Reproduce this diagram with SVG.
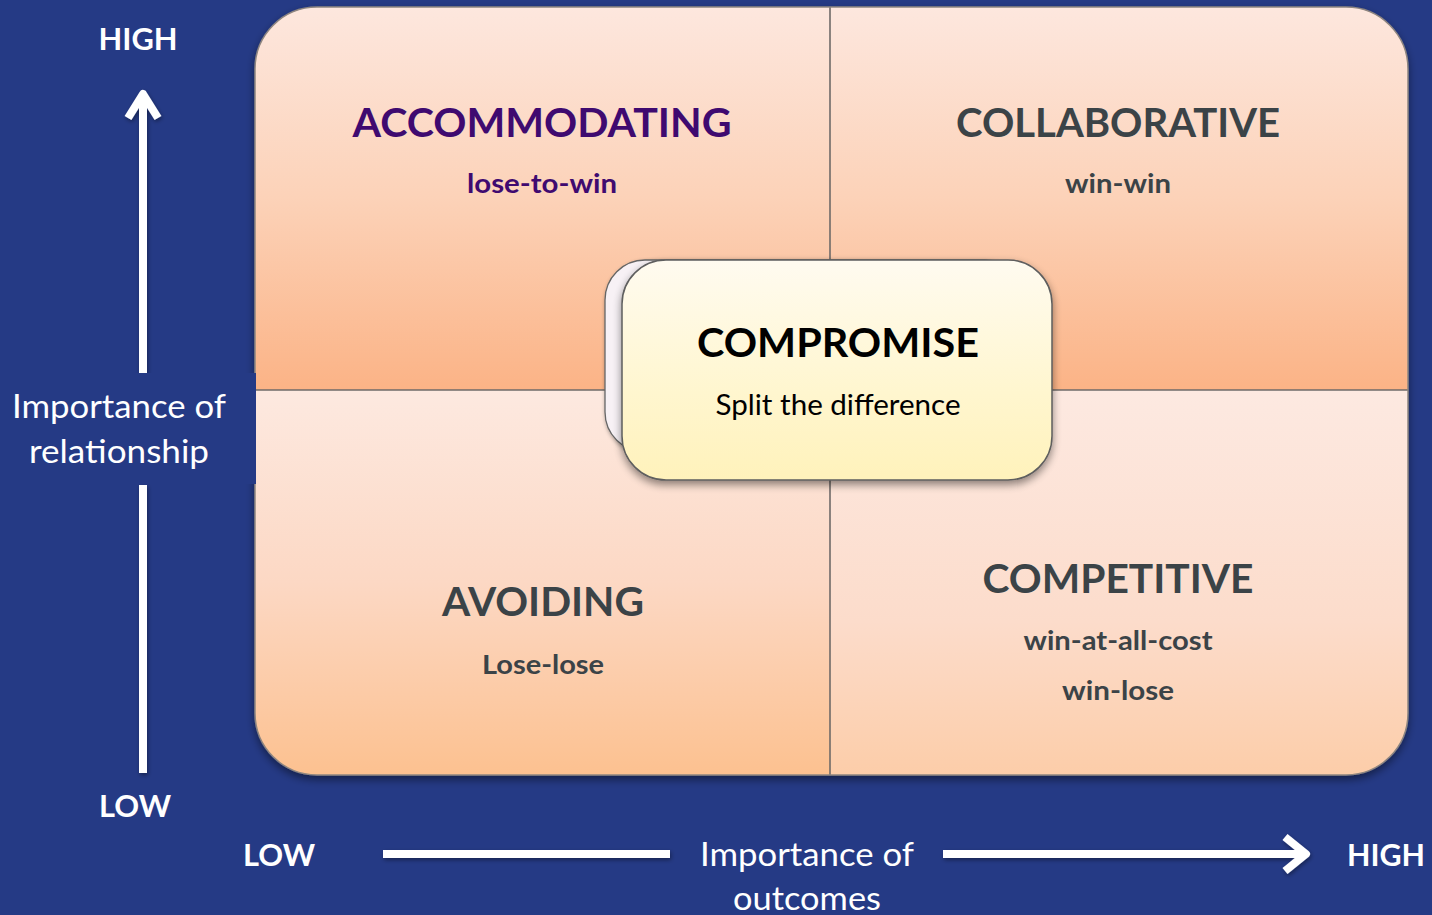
<svg xmlns="http://www.w3.org/2000/svg" width="1432" height="915" viewBox="0 0 1432 915">
<style>
.t{font-family:Lato,"Liberation Sans",sans-serif;text-anchor:middle}
.b{font-weight:bold}
.w{fill:#ffffff}
.g{fill:#3b4347}
.p{fill:#3f0a70}
.k{fill:#000000}
.ax{stroke:#ffffff;stroke-width:8;fill:none;stroke-linejoin:round;stroke-linecap:butt}
.div{stroke:#6e6a68;stroke-width:1.6}
</style>
<defs>
<linearGradient id="gTop" x1="0" y1="0" x2="0" y2="1">
<stop offset="0" stop-color="#fde7de"/><stop offset="0.5" stop-color="#fcd2b8"/><stop offset="1" stop-color="#fbb386"/>
</linearGradient>
<linearGradient id="gBL" x1="0" y1="0" x2="0" y2="1">
<stop offset="0" stop-color="#fde9e0"/><stop offset="0.5" stop-color="#fcd8c4"/><stop offset="1" stop-color="#fcc190"/>
</linearGradient>
<linearGradient id="gBR" x1="0" y1="0" x2="0" y2="1">
<stop offset="0" stop-color="#fde9e1"/><stop offset="0.6" stop-color="#fcdccb"/><stop offset="1" stop-color="#fccda9"/>
</linearGradient>
<linearGradient id="gComp" x1="0" y1="0" x2="0" y2="1">
<stop offset="0" stop-color="#fffbf0"/><stop offset="0.6" stop-color="#fff6cf"/><stop offset="1" stop-color="#fff2bb"/>
</linearGradient>
<clipPath id="frame"><rect x="255" y="7" width="1153" height="768" rx="62" ry="62"/></clipPath>
<filter id="sh" x="-10%" y="-10%" width="120%" height="125%">
<feGaussianBlur in="SourceAlpha" stdDeviation="4"/><feOffset dx="0" dy="4"/>
<feComponentTransfer><feFuncA type="linear" slope="0.45"/></feComponentTransfer>
<feMerge><feMergeNode/><feMergeNode in="SourceGraphic"/></feMerge>
</filter>
<filter id="ash" x="-20%" y="-20%" width="140%" height="140%">
<feGaussianBlur in="SourceAlpha" stdDeviation="2"/><feOffset dx="1" dy="2"/>
<feComponentTransfer><feFuncA type="linear" slope="0.4"/></feComponentTransfer>
<feMerge><feMergeNode/><feMergeNode in="SourceGraphic"/></feMerge>
</filter>
</defs>
<rect x="0" y="0" width="1432" height="915" fill="#253a85"/>

<g id="matrix" filter="url(#sh)">
<rect x="255" y="7" width="1153" height="768" rx="62" ry="62" fill="#fcd2b8"/>
<g clip-path="url(#frame)">
<rect id="q-tl" x="255" y="7" width="575" height="383" fill="url(#gTop)"/>
<rect id="q-tr" x="830" y="7" width="578" height="383" fill="url(#gTop)"/>
<rect id="q-bl" x="255" y="390" width="575" height="385" fill="url(#gBL)"/>
<rect id="q-br" x="830" y="390" width="578" height="385" fill="url(#gBR)"/>
</g>
<line class="div" x1="830" y1="7" x2="830" y2="775"/>
<line class="div" x1="255" y1="390" x2="1408" y2="390"/>
<rect x="255" y="7" width="1153" height="768" rx="62" ry="62" fill="none" stroke="#8d8580" stroke-width="1.5"/>
</g>

<g id="accommodating">
<text class="t b p" x="542" y="137" font-size="41" textLength="379" lengthAdjust="spacingAndGlyphs">ACCOMMODATING</text>
<text class="t b p" x="542" y="193" font-size="27" textLength="150" lengthAdjust="spacingAndGlyphs">lose-to-win</text>
</g>
<g id="collaborative">
<text class="t b g" x="1118" y="137" font-size="41" textLength="324" lengthAdjust="spacingAndGlyphs">COLLABORATIVE</text>
<text class="t b g" x="1118" y="193" font-size="27" textLength="106" lengthAdjust="spacingAndGlyphs">win-win</text>
</g>
<g id="avoiding">
<text class="t b g" x="543" y="616" font-size="41" textLength="202" lengthAdjust="spacingAndGlyphs">AVOIDING</text>
<text class="t b g" x="543" y="674" font-size="27" textLength="122" lengthAdjust="spacingAndGlyphs">Lose-lose</text>
</g>
<g id="competitive">
<text class="t b g" x="1118" y="593" font-size="41" textLength="271" lengthAdjust="spacingAndGlyphs">COMPETITIVE</text>
<text class="t b g" x="1118" y="650" font-size="27" textLength="189" lengthAdjust="spacingAndGlyphs">win-at-all-cost</text>
<text class="t b g" x="1118" y="700" font-size="27" textLength="112" lengthAdjust="spacingAndGlyphs">win-lose</text>
</g>

<g id="compromise">
<rect x="605" y="260" width="420" height="192" rx="40" ry="40" fill="#f7f1f5" stroke="#666" stroke-width="1.3" filter="url(#ash)"/>
<rect x="622" y="260" width="430" height="220" rx="44" ry="44" fill="url(#gComp)" stroke="#5e5e5e" stroke-width="1.5" filter="url(#sh)"/>
<text class="t b k" x="838" y="357" font-size="41" textLength="282" lengthAdjust="spacingAndGlyphs">COMPROMISE</text>
<text class="t k" x="838" y="415" font-size="28" textLength="245" lengthAdjust="spacingAndGlyphs">Split the difference</text>
</g>

<g id="connectors">
<g filter="url(#ash)">
<line class="ax" x1="143" y1="373" x2="143" y2="94"/>
<polyline class="ax" points="128,118 143,94 158,118"/>
<line class="ax" x1="143" y1="485" x2="143" y2="773"/>
<line class="ax" x1="383" y1="854" x2="670" y2="854"/>
<line class="ax" x1="943" y1="854" x2="1303" y2="854"/>
<polyline class="ax" points="1285,837 1306,854 1285,871"/>
</g>
</g>

<g id="y-axis-label">
<rect x="0" y="373" width="256" height="111" fill="#253a85"/>
<text class="t w" x="119" y="418" font-size="32" textLength="214" lengthAdjust="spacingAndGlyphs">Importance of</text>
<text class="t w" x="119" y="463" font-size="32" textLength="180" lengthAdjust="spacingAndGlyphs">relationship</text>
</g>
<g id="y-high"><text class="t b w" x="138" y="50" font-size="30" textLength="79" lengthAdjust="spacingAndGlyphs">HIGH</text></g>
<g id="y-low"><text class="t b w" x="135" y="817" font-size="30" textLength="72" lengthAdjust="spacingAndGlyphs">LOW</text></g>
<g id="x-low"><text class="t b w" x="279" y="866" font-size="30" textLength="72" lengthAdjust="spacingAndGlyphs">LOW</text></g>
<g id="x-high"><text class="t b w" x="1386" y="866" font-size="30" textLength="78" lengthAdjust="spacingAndGlyphs">HIGH</text></g>
<g id="x-axis-label">
<text class="t w" x="807" y="866" font-size="32" textLength="214" lengthAdjust="spacingAndGlyphs">Importance of</text>
<text class="t w" x="807" y="910" font-size="32" textLength="148" lengthAdjust="spacingAndGlyphs">outcomes</text>
</g>
</svg>
